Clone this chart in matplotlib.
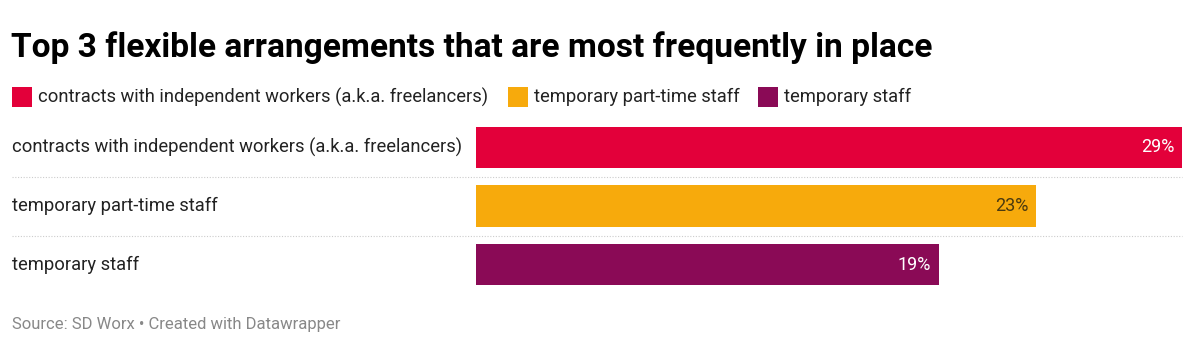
import matplotlib as mpl
from matplotlib import pyplot as plt
from matplotlib.patches import Rectangle

CATEGORIES = [
    "contracts with independent workers (a.k.a. freelancers)",
    "temporary part-time staff",
    "temporary staff",
]
VALUES = [29, 23, 19]
COLORS = ["#e3003a", "#f7aa0c", "#8a0a56"]
LABEL_COLORS = ["#ffffff", "#4a3a10", "#ffffff"]
TITLE = "Top 3 flexible arrangements that are most frequently in place"
SOURCE = "Source: SD Worx \u2022 Created with Datawrapper"

W, H = 1195, 357
DPI = 100
mpl.rcParams["font.family"] = ["Roboto", "DejaVu Sans"]


def fx(px):
    return px / W


def fy(py):
    return 1 - py / H


def main():
    fig = plt.figure(figsize=(W / DPI, H / DPI), dpi=DPI)
    fig.patch.set_facecolor("white")

    fig.text(fx(11), fy(48), TITLE, fontsize=24.1, fontweight="bold",
             color="#000000", va="center", ha="left")

    # legend
    legend_x = [12, 508, 758]
    for i, cat in enumerate(CATEGORIES):
        x0 = legend_x[i]
        fig.patches.append(Rectangle((fx(x0), fy(107)), fx(20), 20 / H,
                                     transform=fig.transFigure,
                                     facecolor=COLORS[i], edgecolor="none"))
        fig.text(fx(x0 + 26), fy(97), cat, fontsize=13.2, color="#222222",
                 va="center", ha="left")

    ax = fig.add_axes([fx(476), fy(294), fx(1182) - fx(476), (294 - 118) / H])
    ypos = list(range(len(CATEGORIES)))
    ax.barh(ypos, VALUES, height=0.7, color=COLORS)
    ax.set_xlim(0, max(VALUES))
    ax.set_ylim(len(CATEGORIES) - 0.5, -0.5)
    ax.axis("off")

    for i, (cat, v) in enumerate(zip(CATEGORIES, VALUES)):
        ax.text(-(476 - 12) / 706 * max(VALUES), i, cat, fontsize=13.2,
                color="#222222", va="center", ha="left", clip_on=False)
        ax.text(v - 0.3, i, f"{v}%", fontsize=13, color=LABEL_COLORS[i],
                va="center", ha="right")

    for sep in [177, 236]:
        fig.add_artist(plt.Line2D([fx(12), fx(1182)], [fy(sep), fy(sep)],
                                  transform=fig.transFigure, color="#cccccc",
                                  linewidth=0.8, linestyle=(0, (1, 1.5))))

    fig.text(fx(12), fy(325), SOURCE, fontsize=12, color="#888888",
             va="center", ha="left")

    fig.savefig("out.png", dpi=DPI)
    plt.close(fig)


if __name__ == "__main__":
    main()
